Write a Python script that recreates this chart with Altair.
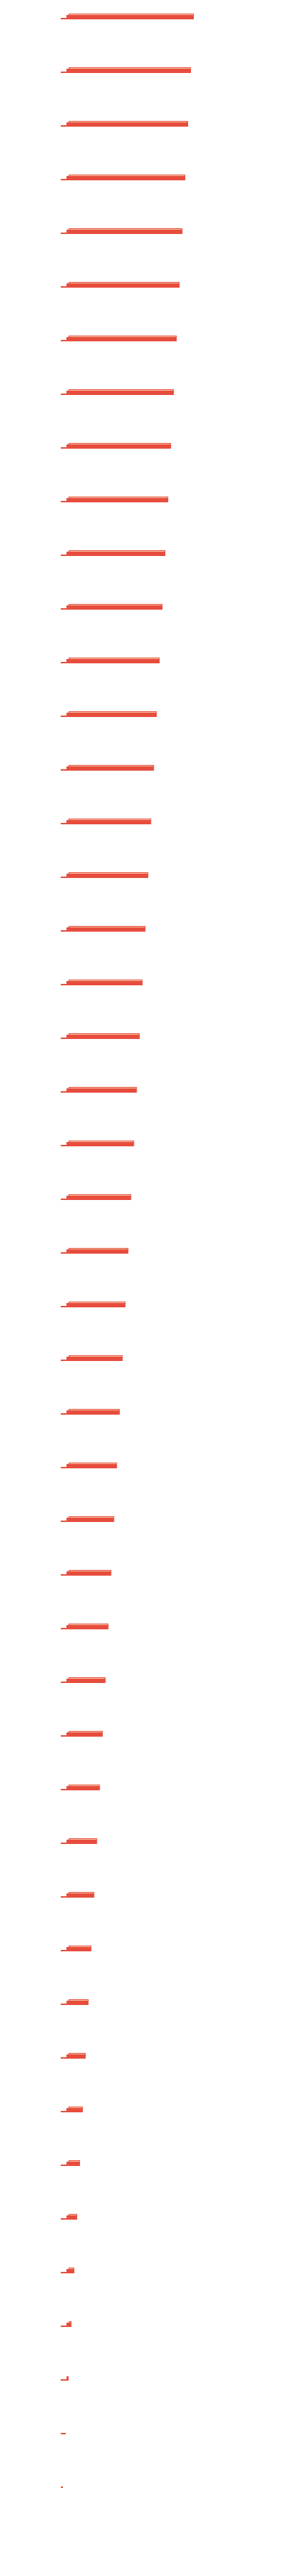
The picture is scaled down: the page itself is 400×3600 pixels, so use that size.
import altair as alt
import pandas as pd

# Row labels (not shown in the picture) and bar totals
rows = ["1", "2", "3", "4", "5", "6", "7", "8", "9", "10",
        "11", "12", "13", "14", "15", "16", "17", "18", "19", "20",
        "21", "22", "23", "24", "25", "26", "27", "28", "29", "30",
        "31", "32", "33", "34", "35", "36", "37", "38", "39", "40",
        "41", "42", "43", "44", "45", "46", "47"]
totals = [46.75, 45.75, 44.75, 43.75, 42.75, 41.75, 40.75, 39.75, 38.75, 37.75,
          36.75, 35.75, 34.75, 33.75, 32.75, 31.75, 30.75, 29.75, 28.75, 27.75,
          26.75, 25.75, 24.75, 23.75, 22.75, 21.75, 20.75, 19.75, 18.75, 17.75,
          16.75, 15.75, 14.75, 13.75, 12.75, 11.75, 10.75, 9.75, 8.75, 7.75,
          6.75, 5.75, 4.75, 3.75, 2.75, 1.75, 0.75]
# segment breakpoints of the stepped bars
thin_end = [2.0]
step_end = [2.75]

RED = "#e74c3c"
LIGHT = "#f7c8a6"

df = pd.DataFrame({"row": rows, "total": totals})
df["thin_end"] = df["total"].clip(upper=thin_end[0])
df["step_end"] = df["total"].clip(upper=step_end[0])
df["thin_start"] = 0.0
df["step_start"] = thin_end[0]
df["big_start"] = step_end[0]

xs = alt.Scale(domain=[0, 50], nice=False, zero=True)
ys = alt.Scale(paddingInner=0, paddingOuter=0)
Y = alt.Y("row:N", sort=rows, axis=None, scale=ys)

base = alt.Chart(df)

thin = base.mark_bar(color=RED, height=2, yOffset=-19.5).encode(
    x=alt.X("thin_start:Q", scale=xs, axis=None),
    x2="thin_end:Q",
    y=Y,
)
step = base.transform_filter("datum.total > 2").mark_bar(color=RED, height=6, yOffset=-21.5).encode(
    x=alt.X("step_start:Q", scale=xs, axis=None),
    x2="step_end:Q",
    y=Y,
)
big = base.transform_filter("datum.total > 2.75").mark_bar(color=RED, height=8, yOffset=-22.5).encode(
    x=alt.X("big_start:Q", scale=xs, axis=None),
    x2="total:Q",
    y=Y,
)
shine = base.transform_filter("datum.total > 3.3").mark_bar(
    color=LIGHT, height=1, yOffset=-25, xOffset=1, x2Offset=-1
).encode(
    x=alt.X("big_start:Q", scale=xs, axis=None),
    x2="total:Q",
    y=Y,
)

chart = alt.layer(thin, step, big, shine).properties(
    width=199,
    height=alt.Step(75),
    padding={"left": 77, "top": 0, "right": 5, "bottom": 5},
).configure_view(strokeWidth=0)

chart.save("out.html", embed_options={"renderer": "svg", "actions": False})
